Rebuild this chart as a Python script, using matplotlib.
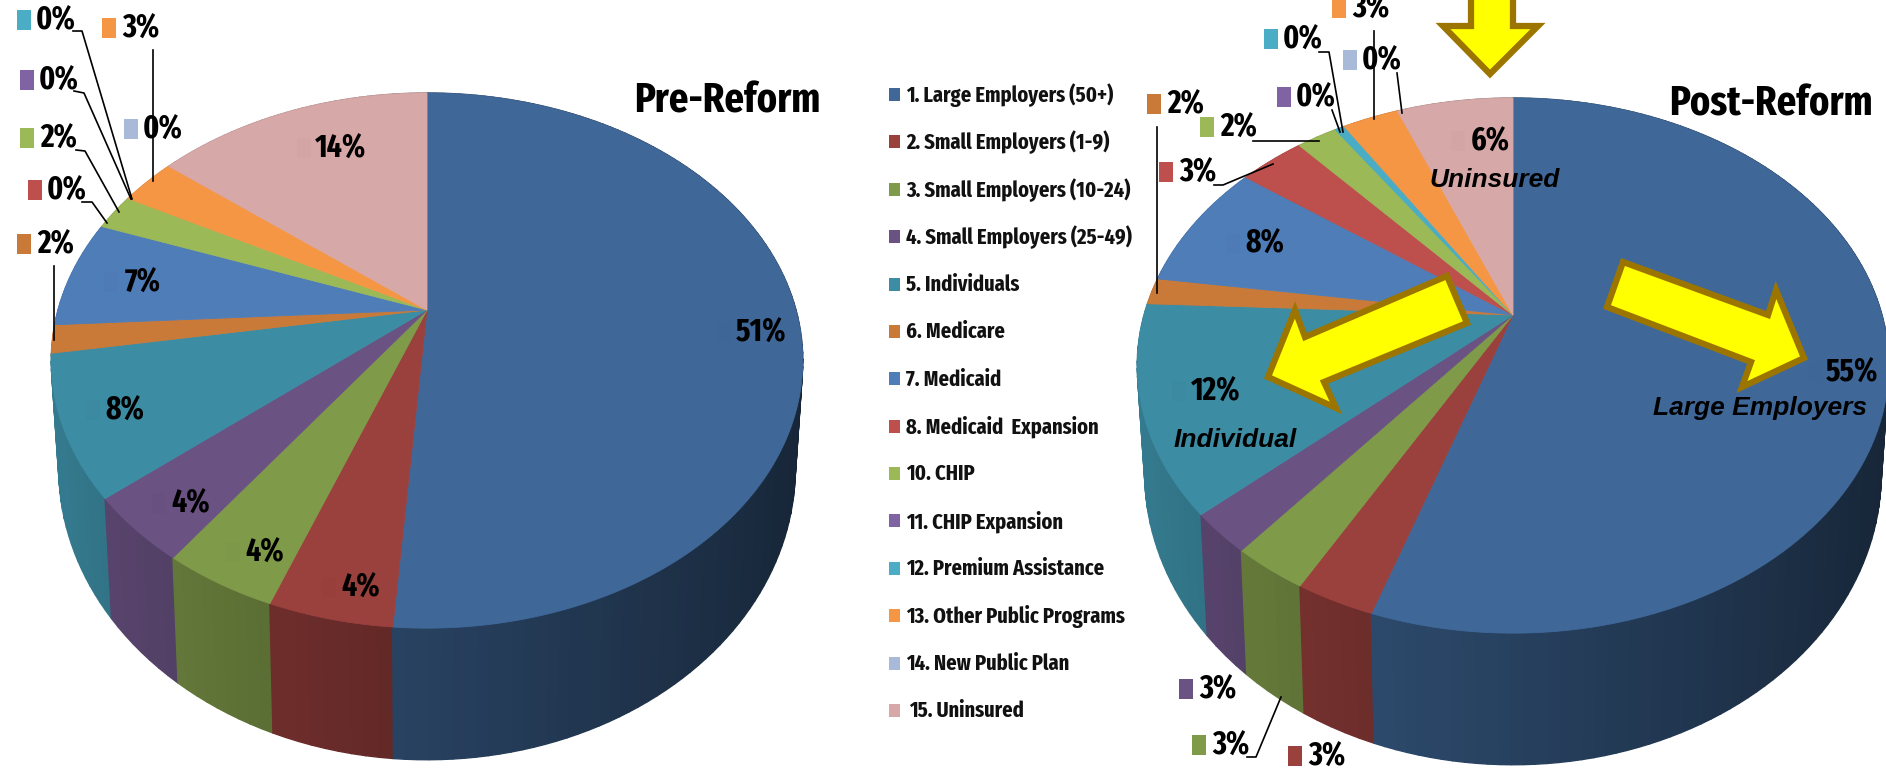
"""
Pre/post reform coverage: two perspective 3D pies drawn by hand in pixel space.
"""
import numpy as np
import matplotlib
matplotlib.use("Agg")
import matplotlib.pyplot as plt
from matplotlib.colors import to_rgb
from matplotlib.patches import Polygon, Rectangle

categories = ["1. Large Employers (50+)", "2. Small Employers (1-9)", "3. Small Employers (10-24)",
              "4. Small Employers (25-49)", "5. Individuals", "6. Medicare", "7. Medicaid",
              "8. Medicaid  Expansion", "10. CHIP", "11. CHIP Expansion", "12. Premium Assistance",
              "13. Other Public Programs", "14. New Public Plan", "15. Uninsured"]
colors = ["#3f6899", "#9a403d", "#7f9a49", "#6a5283", "#3c8ca3", "#c97a38", "#4f7db8",
          "#bd4f4d", "#9cb958", "#7f63a2", "#4aacc5", "#f59645", "#a9bad9", "#d7a8a8"]

pre_values = [51.2, 4.5, 4.2, 4.0, 8.5, 1.7, 6.5, 0, 2.2, 0, 0, 2.9, 0, 14.3]
post_values = [55.1, 2.9, 2.8, 2.4, 12.5, 1.6, 7.8, 3.4, 2.1, 0, 0.5, 2.9, 0, 6.0]
pre_labels = ["51%", "4%", "4%", "4%", "8%", "2%", "7%", "0%", "2%", "0%", "0%", "3%", "0%", "14%"]
post_labels = ["55%", "3%", "3%", "3%", "12%", "2%", "8%", "3%", "2%", "0%", "0%", "3%", "0%", "6%"]

# text centre of each data label, same order as categories (pixels)
pre_pos = [(761, 333), (361, 588), (265, 553), (191, 504), (125, 411), (56, 245), (143, 283),
           (67, 191), (59, 139), (59, 81), (56, 21), (141, 29), (163, 130), (341, 149)]
post_pos = [(1852, 373), (1327, 757), (1231, 746), (1218, 690), (1216, 392), (1186, 105), (1265, 244),
            (1198, 173), (1239, 128), (1316, 98), (1303, 40), (1371, 9), (1382, 61), (1490, 142)]
pre_inside = [0, 1, 2, 3, 4, 6, 13]
post_inside = [0, 4, 6, 13]

pre_leaders = [[(73, 31), (82, 31), (132, 199)], [(74, 91), (84, 93), (131, 199)],
               [(76, 150), (85, 151), (119, 212)], [(82, 202), (92, 202), (107, 223)],
               [(153, 50), (153, 181)], [(54, 266), (54, 340)]]
post_leaders = [[(1157, 127), (1157, 293)], [(1214, 185), (1223, 185), (1273, 164)],
                [(1253, 141), (1319, 141)], [(1332, 110), (1340, 132)],
                [(1319, 52), (1329, 52), (1343, 132)], [(1374, 31), (1374, 119)],
                [(1397, 73), (1402, 113)], [(1247, 757), (1256, 757), (1281, 697)]]

arrows = [[(1471, -8), (1513, -8), (1513, 26), (1538, 26), (1490, 74), (1443, 26), (1471, 26)],
          [(1623, 262), (1768, 315), (1776, 290), (1804, 358), (1742, 387), (1751, 362), (1607, 307)],
          [(1447, 276), (1467, 323), (1324, 382), (1336, 408), (1268, 377), (1295, 310), (1305, 337)]]

NARROW = ["Fira Sans Extra Condensed", "Liberation Sans"]
RX, RY, K = 369, 258, 0.189
DEPTH = 103


def project(t, cx, cy, bottom=False):
    u, v = np.cos(t), np.sin(t)
    s = 1 / (1 + K * v)
    dx, dy = RX * u * s, -RY * v * s
    if bottom:
        return cx + 0.98 * dx, cy + 1.09 * dy + DEPTH
    return cx + dx, cy + dy


def draw_pie(ax, values, cx, cy):
    fr = np.array(values, float) / sum(values)
    edges = np.pi / 2 - 2 * np.pi * np.concatenate([[0], np.cumsum(fr)])
    facets = []
    for i in range(len(values)):
        if fr[i] == 0:
            continue
        n = max(2, int(fr[i] * 360 / 1.5))
        ts = np.linspace(edges[i], edges[i + 1], n)
        for a, b in zip(ts[:-1], ts[1:]):
            facets.append((np.sin((a + b) / 2), np.cos((a + b) / 2), i, a, b))
    for v, u, i, a, b in sorted(facets, key=lambda f: -f[0]):
        shade = np.array(to_rgb(colors[i])) * (0.62 - 0.27 * u)
        quad = [project(a, cx, cy), project(b, cx, cy),
                project(b, cx, cy, True), project(a, cx, cy, True)]
        ax.add_patch(Polygon(quad, fc=shade, ec=shade, lw=1.0, zorder=1))
    for i in range(len(values)):
        if fr[i] == 0:
            continue
        ts = np.linspace(edges[i], edges[i + 1], 200)
        x, y = project(ts, cx, cy)
        pts = [(cx, cy)] + list(zip(x, y))
        ax.add_patch(Polygon(pts, fc=colors[i], ec=colors[i], lw=0.6, zorder=2))


def draw_labels(ax, labels, pos, inside):
    for i, (lab, (x, y)) in enumerate(zip(labels, pos)):
        ax.text(x, y, lab, ha="center", va="center", fontsize=23, fontweight="bold",
                family=NARROW, color="black", zorder=5)
        c = np.array(to_rgb(colors[i])) * (0.985 if i in inside else 1)
        ax.add_patch(Rectangle((x - 29 - 5 * len(lab), y - 11), 14, 20, fc=c, ec="none", zorder=3))


fig = plt.figure(figsize=(18.86, 7.69), dpi=100)
ax = fig.add_axes([0, 0, 1, 1])
ax.set_xlim(0, 1886); ax.set_ylim(769, 0); ax.axis("off")

draw_pie(ax, pre_values, 427, 310)
draw_pie(ax, post_values, 1513, 315)
draw_labels(ax, pre_labels, pre_pos, pre_inside)
draw_labels(ax, post_labels, post_pos, post_inside)

for line in pre_leaders + post_leaders:
    xs, ys = zip(*line)
    ax.plot(xs, ys, color="black", lw=1.2, zorder=4)

for pts in arrows:
    ax.add_patch(Polygon(pts, fc="#ffff00", ec="#9c7500", lw=4.5, joinstyle="miter", zorder=4))

# legend column
rows = np.linspace(95, 711, len(categories))
for name, c, y in zip(categories, colors, rows):
    ax.add_patch(Rectangle((889, y - 7), 11, 13, fc=c, ec="none"))
    ax.text(906 if not name.startswith("15") else 909, y, name, ha="left", va="center",
            fontsize=16, fontweight="bold", family=NARROW, color="#111111")

ax.text(727, 101, "Pre-Reform", ha="center", va="center", fontsize=30, fontweight="bold", family=NARROW)
ax.text(1771, 104, "Post-Reform", ha="center", va="center", fontsize=30, fontweight="bold", family=NARROW)

for txt, x, y in [("Uninsured", 1495, 180), ("Individual", 1235, 440), ("Large Employers", 1760, 408)]:
    ax.text(x, y, txt, ha="center", va="center", fontsize=19, fontweight="bold", style="italic",
            family="Liberation Sans", zorder=5)

fig.savefig("out.png", dpi=100)
